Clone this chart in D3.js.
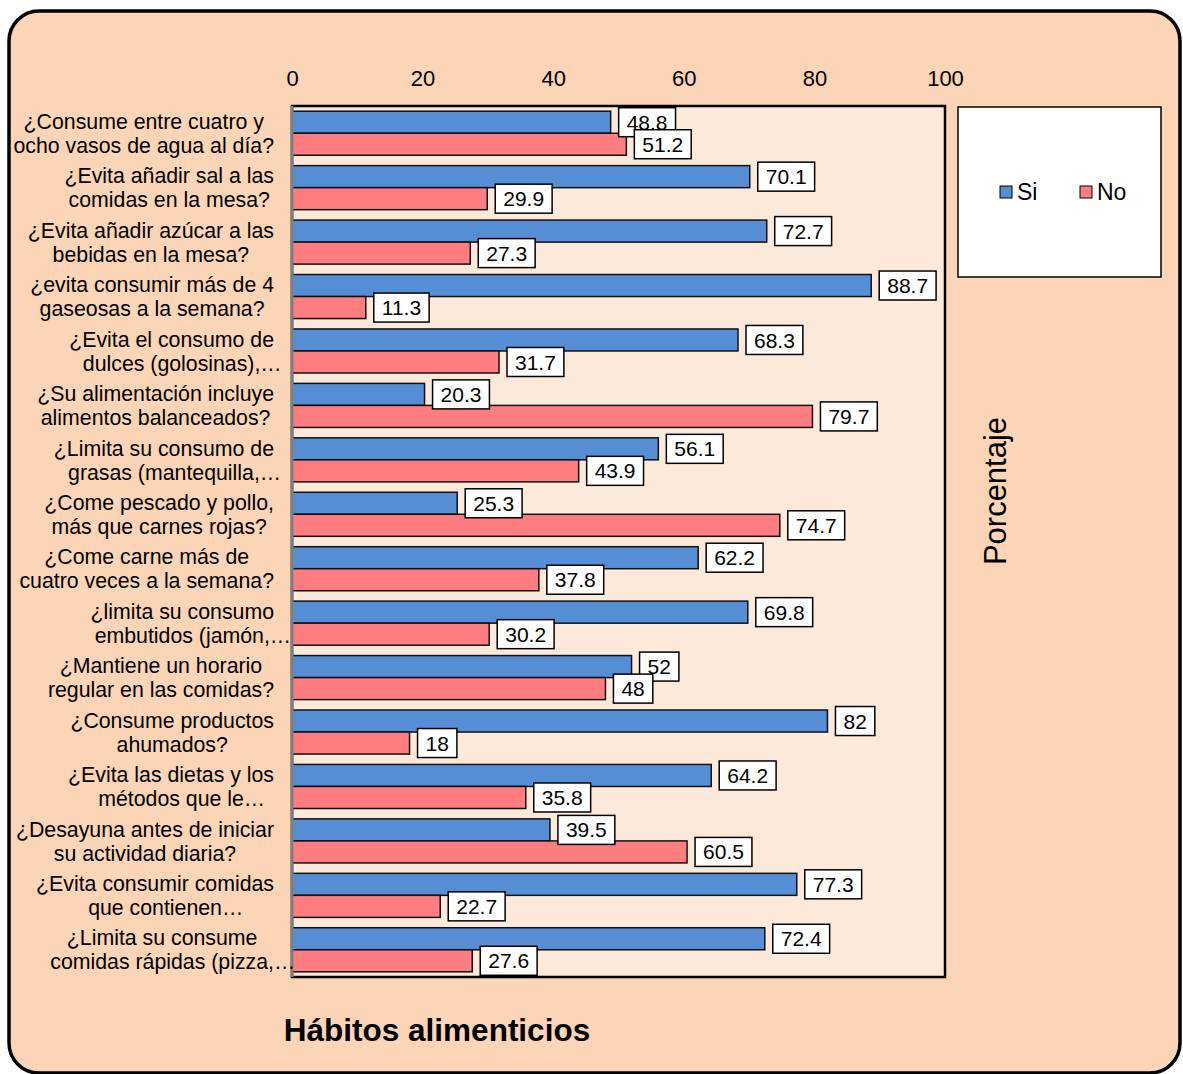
<!DOCTYPE html>
<html>
<head>
<meta charset="utf-8">
<script src="https://cdn.jsdelivr.net/npm/d3@7"></script>
<style>
  body { margin: 0; background: #ffffff; }
  svg text { font-family: "Liberation Sans", Arial, sans-serif; fill: #000; }
</style>
</head>
<body>
<svg width="1183" height="1074"></svg>
<script>
// data
var questions = [
    ["¿Consume entre cuatro y", "ocho vasos de agua al día?"],
    ["¿Evita añadir sal a las", "comidas en la mesa?"],
    ["¿Evita añadir azúcar a las", "bebidas en la mesa?"],
    ["¿evita consumir más de 4", "gaseosas a la semana?"],
    ["¿Evita el consumo de", "dulces (golosinas),…"],
    ["¿Su alimentación incluye", "alimentos balanceados?"],
    ["¿Limita su consumo de", "grasas (mantequilla,…"],
    ["¿Come pescado y pollo,", "más que carnes rojas?"],
    ["¿Come carne más de", "cuatro veces a la semana?"],
    ["¿limita su consumo", "embutidos (jamón,…"],
    ["¿Mantiene un horario", "regular en las comidas?"],
    ["¿Consume productos", "ahumados?"],
    ["¿Evita las dietas y los", "métodos que le…"],
    ["¿Desayuna antes de iniciar", "su actividad diaria?"],
    ["¿Evita consumir comidas", "que contienen…"],
    ["¿Limita su consume", "comidas rápidas (pizza,…"]
];
var si = [48.8, 70.1, 72.7, 88.7, 68.3, 20.3, 56.1, 25.3, 62.2, 69.8, 52, 82, 64.2, 39.5, 77.3, 72.4];
var no = [51.2, 29.9, 27.3, 11.3, 31.7, 79.7, 43.9, 74.7, 37.8, 30.2, 48, 18, 35.8, 60.5, 22.7, 27.6];
var seriesNames = ["Si", "No"];
var seriesColors = ["#558ED5", "#FF7C80"];
var xTicks = [0, 20, 40, 60, 80, 100];

var svg = d3.select("svg");

// outer rounded frame
svg.append("rect")
    .attr("x", 9).attr("y", 11)
    .attr("width", 1171).attr("height", 1062)
    .attr("rx", 30).attr("ry", 30)
    .attr("fill", "#FBD5B5")
    .attr("stroke", "#000").attr("stroke-width", 3.5);

var plot = { left: 292, right: 945, top: 106, bottom: 977 };

var x = d3.scaleLinear().domain([0, 100]).range([plot.left, plot.right]);
var y = d3.scaleBand().domain(d3.range(questions.length)).range([plot.top, plot.bottom]);
var ySub = d3.scaleBand().domain(seriesNames).range([0, y.bandwidth()]).paddingOuter(0.236);

// plot area
svg.append("rect")
    .attr("x", plot.left).attr("y", plot.top)
    .attr("width", plot.right - plot.left).attr("height", plot.bottom - plot.top)
    .attr("fill", "#FDE9D9")
    .attr("stroke", "#000").attr("stroke-width", 2.5);

// top axis
var xAxis = d3.axisTop(x).tickValues(xTicks).tickSize(0).tickPadding(20);
svg.append("g")
    .attr("transform", "translate(0," + plot.top + ")")
    .call(xAxis)
    .call(function (g) { g.select(".domain").remove(); })
    .selectAll("text")
    .style("font-size", "22px")
    .style("font-family", "Liberation Sans, Arial, sans-serif")
    .attr("fill", "#000");

// bars
var bars = svg.append("g");
[si, no].forEach(function (vals, s) {
    bars.selectAll(".bar" + s)
        .data(vals)
        .enter()
        .append("rect")
        .attr("x", x(0))
        .attr("y", function (d, i) { return y(i) + ySub(seriesNames[s]); })
        .attr("width", function (d) { return x(d) - x(0); })
        .attr("height", ySub.bandwidth())
        .attr("fill", seriesColors[s])
        .attr("stroke", "#111")
        .attr("stroke-width", 1.5);
});

// grey left axis line
svg.append("line")
    .attr("x1", plot.left).attr("x2", plot.left)
    .attr("y1", plot.top).attr("y2", plot.bottom)
    .attr("stroke", "#7f7f7f").attr("stroke-width", 3);

// value labels in white boxes
var labels = svg.append("g");
[si, no].forEach(function (vals, s) {
    vals.forEach(function (d, i) {
        var cy = y(i) + ySub(seriesNames[s]) + ySub.bandwidth() / 2;
        var g = labels.append("g");
        var t = g.append("text")
            .attr("x", x(d) + 16)
            .attr("y", cy)
            .attr("dy", "0.36em")
            .style("font-size", "21px")
            .text(String(d));
        var w = t.node().getComputedTextLength();
        g.insert("rect", "text")
            .attr("x", x(d) + 8)
            .attr("y", cy - 14.5)
            .attr("width", w + 16)
            .attr("height", 29)
            .attr("fill", "#fff")
            .attr("stroke", "#000")
            .attr("stroke-width", 1.5);
    });
});

// category labels, centred as a block, block right edge at 274
var cats = svg.append("g").style("font-size", "21.3px");
questions.forEach(function (lines, i) {
    var cy = y(i) + y.bandwidth() / 2;
    var widths = lines.map(function (l) {
        var tmp = cats.append("text").text(l.replace("…", ""));
        var w = tmp.node().getComputedTextLength();
        tmp.remove();
        return w;
    });
    var W = d3.max(widths);
    var cx = 274 - W / 2;
    lines.forEach(function (l, k) {
        cats.append("text")
            .attr("x", cx - widths[k] / 2)
            .attr("y", cy + (k === 0 ? -12 : 12))
            .attr("dy", "0.36em")
            .text(l);
    });
});

// legend
svg.append("rect")
    .attr("x", 958).attr("y", 107)
    .attr("width", 203).attr("height", 170)
    .attr("fill", "#fff")
    .attr("stroke", "#000").attr("stroke-width", 1.5);
var legend = svg.append("g");
seriesNames.forEach(function (name, s) {
    var lx = 1000 + s * 80;
    legend.append("rect")
        .attr("x", lx).attr("y", 186)
        .attr("width", 12).attr("height", 12)
        .attr("fill", seriesColors[s])
        .attr("stroke", "#000").attr("stroke-width", 1);
    legend.append("text")
        .attr("x", lx + 17).attr("y", 192)
        .attr("dy", "0.36em")
        .style("font-size", "23px")
        .text(name);
});

// axis title (right side, rotated)
svg.append("text")
    .attr("transform", "translate(1006,491) rotate(-90)")
    .attr("text-anchor", "middle")
    .style("font-size", "31px")
    .text("Porcentaje");

// category axis title
svg.append("text")
    .attr("x", 437).attr("y", 1041)
    .attr("text-anchor", "middle")
    .style("font-size", "31.5px")
    .style("font-weight", "bold")
    .text("Hábitos alimenticios");
</script>
</body>
</html>
